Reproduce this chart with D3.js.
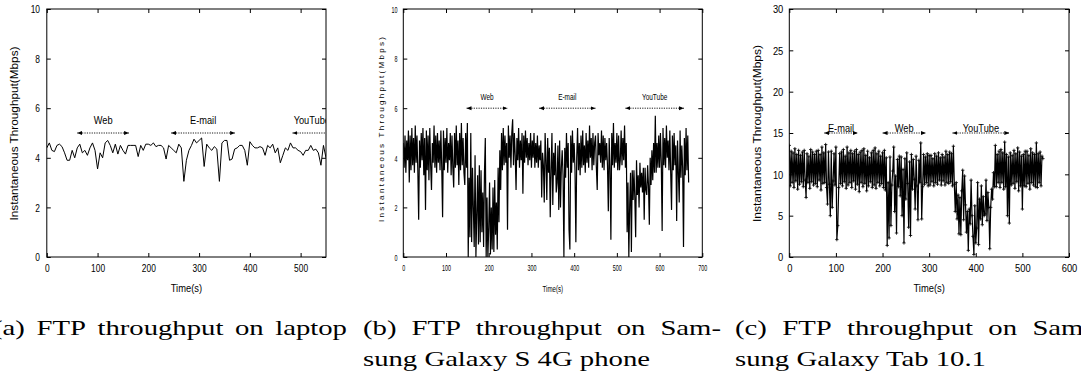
<!DOCTYPE html>
<html>
<head>
<meta charset="utf-8">
<script src="https://cdn.jsdelivr.net/npm/d3@7"></script>
<style>
  body { margin: 0; background: #fff; }
  svg { display: block; }
</style>
</head>
<body>
<svg id="fig" width="1081" height="377"></svg>
<script>
// ---- data ----
// (a) laptop, one sample every 5 s
var laptopStep = 5;
var laptopMbps = [
  4.4, 4.6, 4.3, 4.25, 4.5, 4.55, 4.45, 4.2, 3.9, 3.9,
  4.3, 4.0, 4.4, 4.55, 4.2, 4.3, 4.1, 4.4, 4.6, 4.3,
  3.55, 4.2, 4.0, 4.6, 4.7, 4.5, 4.2, 4.55, 4.15, 4.5,
  4.3, 4.15, 4.5, 4.5, 4.5, 4.5, 4.05, 4.5, 4.3, 4.55,
  4.55, 4.5, 4.6, 4.45, 4.5, 4.5, 4.4, 3.95, 4.5, 4.4,
  4.3, 4.2, 4.55, 4.4, 3.05, 3.9, 4.3, 4.5, 4.75, 4.6,
  4.7, 4.8, 3.65, 4.55, 4.4, 4.3, 4.45, 4.35, 3.05, 4.6,
  4.7, 4.7, 3.9, 3.95, 4.35, 4.4, 4.5, 4.5, 4.3, 3.7,
  4.65, 4.5, 4.4, 4.4, 4.45, 4.4, 4.1, 4.5, 4.4, 4.55,
  4.2, 4.4, 3.8, 4.1, 4.4, 4.3, 4.6, 4.4, 4.4, 4.3,
  4.25, 4.1, 4.3, 4.3, 4.5, 4.3, 4.35, 4.2, 3.7, 4.5,
  4.0
];

// (b) Galaxy S 4G phone, one sample every 2 s (30 s per row)
var phoneStep = 2;
var phoneMbps = [
  4.6, 3.6, 4.9, 3.4, 4.7, 3.9, 5.1, 3.0, 4.9, 3.5, 5.2, 3.7, 4.8, 3.4, 5.3,
  3.8, 4.9, 3.5, 1.5, 4.7, 3.6, 5.0, 3.9, 5.2, 3.3, 4.8, 1.9, 5.1, 3.5, 4.9,
  3.1, 5.2, 3.7, 2.7, 4.6, 3.8, 5.3, 3.6, 4.9, 3.4, 5.0, 3.8, 4.7, 3.5, 5.1,
  3.6, 1.6, 5.1, 3.5, 4.8, 3.8, 5.2, 3.4, 4.6, 3.9, 5.0, 3.3, 4.9, 3.6, 2.8,
  5.0, 3.6, 5.3, 3.7, 4.7, 2.9, 5.0, 3.5, 5.4, 3.7, 4.8, 3.4, 2.9, 5.0, 3.6,
  5.4, 0.0, 3.2, 0.8, 5.0, 0.6, 3.6, 2.0, 0.4, 4.1, 0.0, 1.7, 3.3, 0.5, 3.7,
  0.6, 3.5, 1.0, 2.6, 0.4, 3.4, 4.8, 0.0, 2.4, 0.0, 1.2, 3.0, 0.1, 2.0, 0.3,
  2.8, 0.2, 3.1, 0.9, 2.2, 0.3, 3.6, 1.4, 4.3, 2.7, 5.0, 3.5, 5.2, 3.7, 4.9,
  3.8, 4.6, 1.1, 5.3, 4.0, 4.9, 3.6, 5.0, 5.55, 3.7, 5.0, 4.1, 2.7, 4.8, 3.9,
  5.2, 3.6, 4.7, 3.9, 5.0, 2.55, 4.9, 3.8, 5.1, 4.0, 4.8, 3.7, 4.6, 3.9, 5.0,
  3.6, 4.7, 4.0, 5.0, 3.6, 4.6, 3.8, 4.9, 3.6, 4.5, 3.9, 4.7, 2.4, 4.2, 3.7,
  2.2, 5.0, 3.9, 2.3, 4.8, 3.4, 4.4, 1.6, 3.5, 5.0, 2.1, 4.2, 3.3, 4.6, 2.6,
  3.0, 4.5, 1.9, 4.7, 2.0, 3.6, 4.3, 3.3, 0.0, 4.4, 3.2, 5.0, 3.6, 4.6, 1.1,
  0.3, 4.9, 3.4, 5.1, 3.8, 4.6, 3.5, 0.6, 4.0, 5.2, 3.5, 4.6, 3.3, 4.9, 3.6,
  5.1, 3.7, 4.5, 3.4, 5.0, 3.8, 4.7, 3.6, 5.3, 4.0, 4.8, 3.5, 5.0, 3.7, 4.6,
  4.9, 3.6, 2.7, 5.0, 4.1, 4.6, 3.8, 5.1, 3.6, 4.9, 3.5, 4.8, 3.9, 4.6, 3.7,
  1.85, 4.8, 3.6, 0.7, 5.0, 3.7, 5.4, 3.6, 4.6, 3.8, 5.0, 3.5, 4.9, 3.5, 3.9,
  5.1, 3.7, 4.8, 3.9, 5.3, 3.6, 4.6, 1.0, 3.0, 0.0, 2.1, 3.4, 0.2, 3.5, 2.3,
  3.5, 2.4, 0.8, 3.9, 2.5, 3.3, 2.0, 3.8, 2.8, 3.4, 2.6, 3.6, 1.5, 3.6, 2.7,
  2.5, 3.7, 2.9, 1.3, 4.0, 2.9, 4.3, 3.1, 4.6, 3.4, 5.7, 3.4, 4.6, 3.6, 4.9,
  3.6, 5.0, 3.8, 1.05, 5.2, 3.7, 4.8, 3.6, 5.3, 4.0, 4.7, 3.5, 5.1, 3.4, 1.9,
  4.9, 3.5, 5.0, 3.7, 4.5, 1.45, 4.7, 3.4, 2.2, 5.1, 3.2, 4.5, 3.6, 0.4, 4.8,
  3.3, 5.2, 3.5, 4.9, 3.0
];

// (c) Galaxy Tab 10.1, one sample every 2 s (30 s per row)
var tabStep = 2;
var tabMbps = [
  13.5, 8.6, 12.8, 9.0, 12.6, 8.4, 13.1, 9.2, 12.4, 8.2, 12.9, 8.8, 12.3, 9.1, 12.7,
  8.5, 12.9, 9.3, 7.2, 12.5, 9.0, 12.2, 8.3, 13.0, 9.1, 12.7, 8.7, 12.4, 8.9, 12.8,
  8.5, 12.9, 9.3, 12.4, 8.1, 13.3, 8.9, 12.6, 9.0, 13.6, 8.4, 6.4, 12.7, 8.8, 5.0,
  12.8, 6.0, 9.2, 12.5, 8.7, 13.3, 2.1, 3.8, 8.4, 12.5, 8.9, 12.7, 8.6, 13.0, 9.1,
  12.2, 8.3, 13.3, 8.7, 12.6, 9.0, 12.9, 8.4, 12.5, 9.2, 12.8, 8.2, 13.0, 8.8, 12.4,
  7.9, 12.7, 9.0, 12.9, 8.5, 13.1, 8.9, 12.3, 8.0, 12.8, 8.6, 12.0, 9.1, 12.6, 8.4,
  12.9, 8.7, 13.2, 8.3, 12.5, 9.0, 12.8, 8.6, 12.2, 8.9, 12.6, 8.4, 12.9, 8.1, 12.0,
  1.4, 9.0, 2.3, 12.1, 3.8, 8.7, 10.4, 13.3, 5.5, 9.8, 2.9, 11.8, 8.5, 12.2, 7.4,
  12.1, 5.0, 10.6, 1.7, 11.9, 7.0, 12.6, 8.9, 3.6, 11.5, 2.6, 12.4, 8.2, 11.8, 9.4,
  5.8, 12.2, 8.6, 4.5, 11.7, 9.0, 13.8, 4.6, 8.5, 12.4, 8.8, 12.1, 9.0, 12.5, 8.6,
  12.3, 8.7, 12.3, 9.1, 11.9, 8.6, 12.5, 9.0, 12.2, 8.8, 12.6, 9.3, 12.0, 8.7, 12.4,
  9.2, 12.1, 8.7, 12.8, 9.0, 12.4, 8.9, 12.7, 9.1, 12.5, 8.6, 13.4, 8.8, 5.5, 9.0,
  4.6, 7.5, 2.8, 7.2, 2.7, 8.0, 10.5, 4.5, 9.8, 6.3, 3.0, 5.5, 0.8, 5.8, 4.0,
  9.3, 5.0, 2.5, 0.3, 6.2, 1.7, 3.5, 9.0, 1.5, 7.0, 4.6, 8.6, 3.9, 7.3, 5.0,
  5.2, 9.3, 4.4, 7.8, 6.0, 1.0, 6.0, 8.2, 7.0, 10.2, 8.5, 13.5, 8.5, 12.4, 9.0,
  12.8, 8.4, 13.0, 9.0, 12.6, 8.2, 13.9, 8.5, 12.4, 5.0, 12.1, 4.1, 12.6, 8.7, 12.3,
  8.9, 12.9, 8.3, 12.5, 9.1, 13.2, 8.0, 12.7, 8.6, 12.2, 5.8, 12.4, 8.6, 12.8, 8.5,
  12.8, 8.9, 12.3, 8.2, 13.1, 9.0, 12.6, 8.7, 12.4, 8.5, 13.8, 8.4, 12.5, 9.0, 12.7,
  8.6, 12.2, 11.9
];

// application periods marked with double arrows
var laptopApps = ["Web", "E-mail", "YouTube"];
var laptopAppFrom = [60, 245, 484];
var laptopAppTo = [162, 371, 560];

var phoneApps = ["Web", "E-mail", "YouTube"];
var phoneAppFrom = [148, 318, 520];
var phoneAppTo = [244, 450, 657];

var tabApps = ["E-mail", "Web", "YouTube"];
var tabAppFrom = [75, 200, 350];
var tabAppTo = [147, 293, 472];

// axis ticks
var laptopXTicks = [0, 100, 200, 300, 400, 500];
var laptopYTicks = [0, 2, 4, 6, 8, 10];
var phoneXTicks = [0, 100, 200, 300, 400, 500, 600, 700];
var phoneYTicks = [0, 2, 4, 6, 8, 10];
var tabXTicks = [0, 100, 200, 300, 400, 500, 600];
var tabYTicks = [0, 5, 10, 15, 20, 25, 30];

var yTitle = "Instantaneous  Throughput(Mbps)";
var xTitle = "Time(s)";

// ---- drawing ----
var svg = d3.select("#fig");
var sans = "'Liberation Sans', Arial, Helvetica, sans-serif";

var defs = svg.append("defs");
defs.append("marker")
    .attr("id", "head")
    .attr("viewBox", "0 -3 6 6")
    .attr("refX", 6).attr("refY", 0)
    .attr("markerWidth", 5).attr("markerHeight", 5)
    .attr("markerUnits", "userSpaceOnUse")
    .attr("orient", "auto-start-reverse")
  .append("path")
    .attr("d", "M0,-2.4L6,0L0,2.4Z")
    .attr("fill", "#000");

// squeeze a text horizontally, the figure was scaled unevenly
function squeeze(sel, sx) {
  sel.each(function() {
    var w = this.getComputedTextLength();
    d3.select(this).attr("textLength", w * sx).attr("lengthAdjust", "spacingAndGlyphs");
  });
}

var panels = [
  { key: "a", left: 46.8, right: 326, xMax: 550, yMax: 10,
    xTicks: laptopXTicks, yTicks: laptopYTicks, values: laptopMbps, step: laptopStep,
    apps: laptopApps, from: laptopAppFrom, to: laptopAppTo, labelV: 5.52, arrowV: 5.0,
    tickFont: 10.5, tickSx: 0.8, textFont: 10.5, textSx: 0.88, xPad: 8, yPad: 6.8,
    yt: { x: 14, y: 133.5, len: 174, fs: 10.5, adjust: "spacingAndGlyphs" }, xtY: 291.5,
    marks: false, lineW: 1 },
  { key: "b", left: 403.3, right: 702.3, xMax: 700, yMax: 10,
    xTicks: phoneXTicks, yTicks: phoneYTicks, values: phoneMbps, step: phoneStep,
    apps: phoneApps, from: phoneAppFrom, to: phoneAppTo, labelV: 6.45, arrowV: 6.0,
    tickFont: 9, tickSx: 0.6, textFont: 8.5, textSx: 0.76, xPad: 7.5, yPad: 5.8,
    yt: { x: 381, y: 129.5, len: 185, fs: 8, adjust: "spacing" }, xtY: 292,
    marks: false, lineW: 1.2 },
  { key: "c", left: 789.3, right: 1069, xMax: 600, yMax: 30,
    xTicks: tabXTicks, yTicks: tabYTicks, values: tabMbps, step: tabStep,
    apps: tabApps, from: tabAppFrom, to: tabAppTo, labelV: 15.6, arrowV: 15.0,
    tickFont: 11, tickSx: 0.85, textFont: 10.5, textSx: 0.88, xPad: 7.5, yPad: 6,
    yt: { x: 757, y: 133.5, len: 177, fs: 11, adjust: "spacingAndGlyphs" }, xtY: 291.5,
    marks: true, lineW: 1.2 }
];

var plotTop = 9, plotBottom = 257;

panels.forEach(function(p) {
  var x = d3.scaleLinear().domain([0, p.xMax]).range([p.left, p.right]);
  var y = d3.scaleLinear().domain([0, p.yMax]).range([plotBottom, plotTop]);
  var g = svg.append("g").attr("class", "panel-" + p.key);

  defs.append("clipPath").attr("id", "clip-" + p.key)
    .append("rect")
      .attr("x", p.left).attr("y", plotTop)
      .attr("width", p.right - p.left).attr("height", plotBottom - plotTop);

  // axes, gnuplot style: inward ticks mirrored on all four sides
  var ax = g.append("g").attr("font-family", sans).attr("color", "#000");
  var xb = ax.append("g").attr("transform", "translate(0," + plotBottom + ")")
      .call(d3.axisBottom(x).tickValues(p.xTicks).tickSize(-4).tickPadding(p.xPad));
  var yl = ax.append("g").attr("transform", "translate(" + p.left + ",0)")
      .call(d3.axisLeft(y).tickValues(p.yTicks).tickSize(-4).tickPadding(p.yPad));
  ax.append("g").attr("transform", "translate(0," + plotTop + ")")
      .call(d3.axisTop(x).tickValues(p.xTicks).tickSize(-4).tickFormat(""));
  ax.append("g").attr("transform", "translate(" + p.right + ",0)")
      .call(d3.axisRight(y).tickValues(p.yTicks).tickSize(-4).tickFormat(""));
  ax.selectAll(".domain").remove();
  ax.selectAll("text").attr("font-size", p.tickFont);
  squeeze(xb.selectAll("text"), p.tickSx);
  squeeze(yl.selectAll("text"), p.tickSx);
  yl.selectAll("text").attr("dy", "0.36em");

  g.append("rect")
      .attr("x", p.left).attr("y", plotTop)
      .attr("width", p.right - p.left).attr("height", plotBottom - plotTop)
      .attr("fill", "none").attr("stroke", "#000").attr("stroke-width", 1);

  // trace
  var pts = p.values.map(function(v, i) { return [i * p.step, v]; });
  var line = d3.line().x(function(d) { return x(d[0]); }).y(function(d) { return y(d[1]); });
  var plot = g.append("g").attr("clip-path", "url(#clip-" + p.key + ")");
  plot.append("path")
      .datum(pts)
      .attr("d", line)
      .attr("fill", "none")
      .attr("stroke", "#000")
      .attr("stroke-width", p.lineW)
      .attr("stroke-linejoin", "bevel");

  if (p.marks) {
    plot.append("g").selectAll("path")
      .data(pts)
      .enter().append("path")
        .attr("transform", function(d) { return "translate(" + x(d[0]) + "," + y(d[1]) + ")"; })
        .attr("d", "M-1.7,0H1.7M0,-1.7V1.7")
        .attr("stroke", "#000")
        .attr("stroke-width", 0.8);
  }

  // application periods
  p.apps.forEach(function(name, i) {
    plot.append("line")
        .attr("x1", x(p.from[i])).attr("x2", x(p.to[i]))
        .attr("y1", y(p.arrowV)).attr("y2", y(p.arrowV))
        .attr("stroke", "#000").attr("stroke-width", 0.9)
        .attr("stroke-dasharray", "1.2,1.2")
        .attr("marker-start", "url(#head)")
        .attr("marker-end", "url(#head)");
    var t = plot.append("text")
        .attr("x", x((p.from[i] + Math.min(p.to[i], p.xMax + 20)) / 2))
        .attr("y", y(p.labelV))
        .attr("text-anchor", "middle")
        .attr("dominant-baseline", "central")
        .attr("font-family", sans)
        .attr("font-size", p.textFont)
        .text(name);
    squeeze(t, p.textSx);
  });

  // axis titles
  var xt = g.append("text")
      .attr("x", (p.left + p.right) / 2).attr("y", p.xtY)
      .attr("text-anchor", "middle")
      .attr("font-family", sans).attr("font-size", p.textFont)
      .text(xTitle);
  squeeze(xt, p.key === "b" ? 0.72 : 0.89);

  g.append("text")
      .attr("transform", "translate(" + p.yt.x + "," + p.yt.y + ") rotate(-90)")
      .attr("text-anchor", "middle")
      .attr("dominant-baseline", "central")
      .attr("font-family", sans).attr("font-size", p.yt.fs)
      .attr("textLength", p.yt.len)
      .attr("lengthAdjust", p.yt.adjust)
      .text(yTitle);
});

// ---- sub-figure captions (LaTeX, justified columns) ----
var cap = svg.append("g")
    .attr("font-family", "'Liberation Serif', 'Times New Roman', serif")
    .attr("font-size", 21)
    .attr("fill", "#000");

function natural(str) {
  var t = cap.append("text").text(str);
  var w = t.node().getComputedTextLength();
  t.remove();
  return w;
}
var capSx = 287 / natural("sung Galaxy S 4G phone");

function justified(words, x0, x1, yb) {
  var ws = words.map(function(w) { return natural(w) * capSx; });
  var gap = (x1 - x0 - d3.sum(ws)) / (words.length - 1);
  var cx = x0;
  words.forEach(function(w, i) {
    cap.append("text")
        .attr("x", cx).attr("y", yb)
        .attr("textLength", ws[i]).attr("lengthAdjust", "spacingAndGlyphs")
        .text(w);
    cx += ws[i] + gap;
  });
}
function plain(str, x0, yb) {
  cap.append("text")
      .attr("x", x0).attr("y", yb)
      .attr("textLength", natural(str) * capSx).attr("lengthAdjust", "spacingAndGlyphs")
      .text(str);
}

justified(["(a)", "FTP", "throughput", "on", "laptop"], -7, 347, 335);
justified(["(b)", "FTP", "throughput", "on", "Sam-"], 363, 721, 335);
plain("sung Galaxy S 4G phone", 363, 366);
justified(["(c)", "FTP", "throughput", "on", "Sam-"], 735, 1093, 335);
plain("sung Galaxy Tab 10.1", 735, 366);
</script>
</body>
</html>
